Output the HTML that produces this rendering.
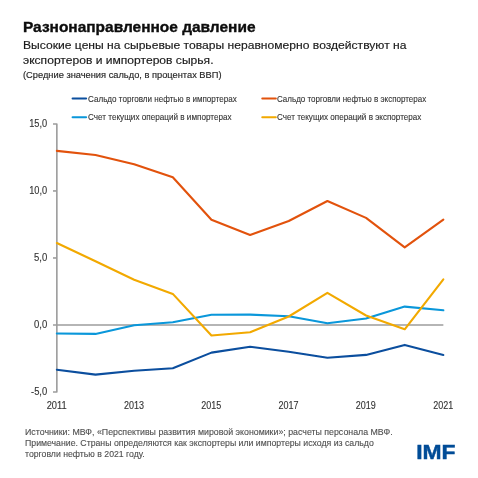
<!DOCTYPE html>
<html><head><meta charset="utf-8"><style>html,body{margin:0;padding:0;background:#fff;width:478px;height:478px;overflow:hidden}svg{display:block;will-change:transform}</style></head>
<body><svg width="478" height="478" viewBox="0 0 478 478">
<rect width="478" height="478" fill="#fff"/>
<text x="23" y="32.1" font-family="Liberation Sans, sans-serif" font-size="14.7" font-weight="bold" fill="#0d0d0d" stroke="#0d0d0d" stroke-width="0.35" textLength="232.5" lengthAdjust="spacingAndGlyphs">Разнонаправленное давление</text>
<text x="23" y="49.1" font-family="Liberation Sans, sans-serif" font-size="10.4" font-weight="normal" fill="#1a1a1a" stroke="#1a1a1a" stroke-width="0.15" textLength="383.5" lengthAdjust="spacingAndGlyphs">Высокие цены на сырьевые товары неравномерно воздействуют на</text>
<text x="23" y="64.4" font-family="Liberation Sans, sans-serif" font-size="10.4" font-weight="normal" fill="#1a1a1a" stroke="#1a1a1a" stroke-width="0.15" textLength="190.5" lengthAdjust="spacingAndGlyphs">экспортеров и импортеров сырья.</text>
<text x="23" y="78.4" font-family="Liberation Sans, sans-serif" font-size="9.0" font-weight="normal" fill="#262626" stroke="#262626" stroke-width="0.15" textLength="198.5" lengthAdjust="spacingAndGlyphs">(Средние значения сальдо, в процентах ВВП)</text>
<line x1="72.6" y1="98.5" x2="86.1" y2="98.5" stroke="#0B4E9E" stroke-width="2.1" stroke-linecap="round"/>
<text x="88" y="101.7" font-family="Liberation Sans, sans-serif" font-size="8.4" font-weight="normal" fill="#333333" stroke="#333333" stroke-width="0.1" textLength="148.8" lengthAdjust="spacingAndGlyphs">Сальдо торговли нефтью в импортерах</text>
<line x1="72.6" y1="117.2" x2="86.1" y2="117.2" stroke="#0A97DA" stroke-width="2.1" stroke-linecap="round"/>
<text x="88" y="120.1" font-family="Liberation Sans, sans-serif" font-size="8.4" font-weight="normal" fill="#333333" stroke="#333333" stroke-width="0.1" textLength="143.6" lengthAdjust="spacingAndGlyphs">Счет текущих операций в импортерах</text>
<line x1="262.3" y1="98.5" x2="275.8" y2="98.5" stroke="#E2520C" stroke-width="2.1" stroke-linecap="round"/>
<text x="277.0" y="101.7" font-family="Liberation Sans, sans-serif" font-size="8.4" font-weight="normal" fill="#333333" stroke="#333333" stroke-width="0.1" textLength="149.2" lengthAdjust="spacingAndGlyphs">Сальдо торговли нефтью в экспортерах</text>
<line x1="262.3" y1="117.2" x2="275.8" y2="117.2" stroke="#F2A900" stroke-width="2.1" stroke-linecap="round"/>
<text x="277.0" y="120.1" font-family="Liberation Sans, sans-serif" font-size="8.4" font-weight="normal" fill="#333333" stroke="#333333" stroke-width="0.1" textLength="144.3" lengthAdjust="spacingAndGlyphs">Счет текущих операций в экспортерах</text>
<path d="M53 123.93 L56.85 123.93 L56.85 392.02 L53 392.02" fill="none" stroke="#9C9C9C" stroke-width="1.6" stroke-linejoin="round"/>
<text x="47.2" y="127.03" text-anchor="end" font-family="Liberation Sans, sans-serif" font-size="10.2" fill="#333333" stroke="#333333" stroke-width="0.12" textLength="18.0" lengthAdjust="spacingAndGlyphs">15,0</text>
<line x1="53" y1="190.95" x2="56.85" y2="190.95" stroke="#9C9C9C" stroke-width="1.6"/>
<text x="47.2" y="194.05" text-anchor="end" font-family="Liberation Sans, sans-serif" font-size="10.2" fill="#333333" stroke="#333333" stroke-width="0.12" textLength="18.0" lengthAdjust="spacingAndGlyphs">10,0</text>
<line x1="53" y1="257.98" x2="56.85" y2="257.98" stroke="#9C9C9C" stroke-width="1.6"/>
<text x="47.2" y="261.08" text-anchor="end" font-family="Liberation Sans, sans-serif" font-size="10.2" fill="#333333" stroke="#333333" stroke-width="0.12" textLength="13.2" lengthAdjust="spacingAndGlyphs">5,0</text>
<text x="47.2" y="328.10" text-anchor="end" font-family="Liberation Sans, sans-serif" font-size="10.2" fill="#333333" stroke="#333333" stroke-width="0.12" textLength="13.2" lengthAdjust="spacingAndGlyphs">0,0</text>
<text x="47.2" y="395.12" text-anchor="end" font-family="Liberation Sans, sans-serif" font-size="10.2" fill="#333333" stroke="#333333" stroke-width="0.12" textLength="16.2" lengthAdjust="spacingAndGlyphs">-5,0</text>
<line x1="53" y1="325.00" x2="443.35" y2="325.00" stroke="#9C9C9C" stroke-width="1.6"/>
<text x="56.65" y="408.9" text-anchor="middle" font-family="Liberation Sans, sans-serif" font-size="10.2" fill="#333333" stroke="#333333" stroke-width="0.12" textLength="20.0" lengthAdjust="spacingAndGlyphs">2011</text>
<text x="133.95" y="408.9" text-anchor="middle" font-family="Liberation Sans, sans-serif" font-size="10.2" fill="#333333" stroke="#333333" stroke-width="0.12" textLength="20.0" lengthAdjust="spacingAndGlyphs">2013</text>
<text x="211.25" y="408.9" text-anchor="middle" font-family="Liberation Sans, sans-serif" font-size="10.2" fill="#333333" stroke="#333333" stroke-width="0.12" textLength="20.0" lengthAdjust="spacingAndGlyphs">2015</text>
<text x="288.55" y="408.9" text-anchor="middle" font-family="Liberation Sans, sans-serif" font-size="10.2" fill="#333333" stroke="#333333" stroke-width="0.12" textLength="20.0" lengthAdjust="spacingAndGlyphs">2017</text>
<text x="365.85" y="408.9" text-anchor="middle" font-family="Liberation Sans, sans-serif" font-size="10.2" fill="#333333" stroke="#333333" stroke-width="0.12" textLength="20.0" lengthAdjust="spacingAndGlyphs">2019</text>
<text x="443.15" y="408.9" text-anchor="middle" font-family="Liberation Sans, sans-serif" font-size="10.2" fill="#333333" stroke="#333333" stroke-width="0.12" textLength="20.0" lengthAdjust="spacingAndGlyphs">2021</text>
<polyline points="56.85,369.70 95.50,374.60 134.15,370.75 172.80,368.20 211.45,352.60 250.10,346.70 288.75,351.70 327.40,357.70 366.05,354.90 404.70,344.90 443.35,354.90" fill="none" stroke="#0B4E9E" stroke-width="2.1" stroke-linejoin="round" stroke-linecap="round"/>
<polyline points="56.85,333.50 95.50,333.90 134.15,325.30 172.80,322.20 211.45,314.70 250.10,314.60 288.75,316.20 327.40,323.30 366.05,318.50 404.70,306.60 443.35,310.30" fill="none" stroke="#0A97DA" stroke-width="2.1" stroke-linejoin="round" stroke-linecap="round"/>
<polyline points="56.85,150.90 95.50,155.00 134.15,164.20 172.80,177.30 211.45,219.80 250.10,234.90 288.75,221.00 327.40,201.00 366.05,217.90 404.70,247.40 443.35,219.60" fill="none" stroke="#E2520C" stroke-width="2.1" stroke-linejoin="round" stroke-linecap="round"/>
<polyline points="56.85,243.00 95.50,261.30 134.15,279.80 172.80,293.90 211.45,335.50 250.10,332.30 288.75,316.50 327.40,292.80 366.05,315.50 404.70,329.30 443.35,279.40" fill="none" stroke="#F2A900" stroke-width="2.1" stroke-linejoin="round" stroke-linecap="round"/>
<text x="25" y="434.9" font-family="Liberation Sans, sans-serif" font-size="9.1" font-weight="normal" fill="#4f4f4f" stroke="#4f4f4f" stroke-width="0.12" textLength="367.6" lengthAdjust="spacingAndGlyphs">Источники: МВФ, «Перспективы развития мировой экономики»; расчеты персонала МВФ.</text>
<text x="25" y="445.8" font-family="Liberation Sans, sans-serif" font-size="9.1" font-weight="normal" fill="#4f4f4f" stroke="#4f4f4f" stroke-width="0.12" textLength="348.8" lengthAdjust="spacingAndGlyphs">Примечание. Страны определяются как экспортеры или импортеры исходя из сальдо</text>
<text x="25" y="456.6" font-family="Liberation Sans, sans-serif" font-size="9.1" font-weight="normal" fill="#4f4f4f" stroke="#4f4f4f" stroke-width="0.12" textLength="119.7" lengthAdjust="spacingAndGlyphs">торговли нефтью в 2021 году.</text>
<text x="416.2" y="459.4" font-family="Liberation Sans, sans-serif" font-size="20.6" font-weight="bold" fill="#004C97" stroke="#004C97" stroke-width="0.45" textLength="39.4" lengthAdjust="spacingAndGlyphs">IMF</text>
</svg></body></html>
